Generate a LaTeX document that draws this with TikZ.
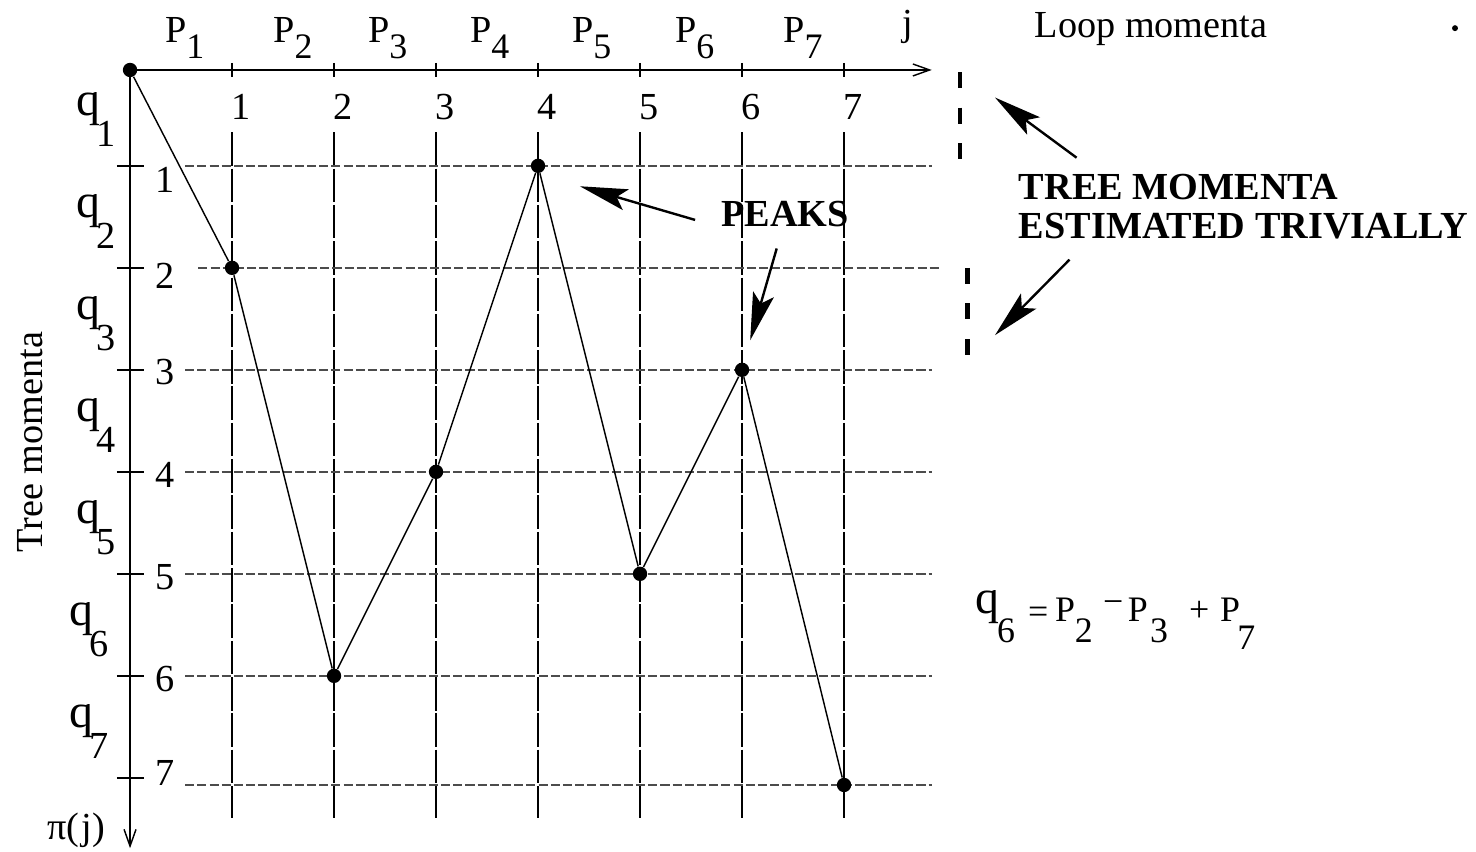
\documentclass[tikz,border=0pt]{standalone}
\usepackage{fontspec}
\setmainfont{Liberation Serif}
\usetikzlibrary{arrows.meta}

\begin{document}
\begin{tikzpicture}[
    x=1.5cm, y=-1.5cm,
    dot/.style={circle, fill=black, inner sep=0pt, minimum size=6pt},
    axis/.style={line width=0.6pt, -{Straight Barb[length=7pt, width=5pt]}},
    tickmark/.style={line width=0.6pt},
    vgrid/.style={line width=0.5pt, dash pattern=on 14pt off 1.2pt},
    hgrid/.style={line width=0.6pt, black!70, dash pattern=on 3.8pt off 1.3pt},
    path line/.style={line width=0.6pt},
    pointer/.style={line width=1pt, -{Stealth[length=20pt, width=9pt, inset=4pt]}},
    bar/.style={line width=1.8pt, dash pattern=on 6.7pt off 8.2pt},
    numlab/.style={inner sep=0pt, font=\fontsize{16}{19}\selectfont},
    plab/.style={inner sep=0pt, font=\fontsize{16}{19}\selectfont},
    qlab/.style={inner sep=0pt, font=\fontsize{20}{24}\selectfont},
    bold note/.style={inner sep=0pt, font=\fontsize{16}{16.7}\selectfont\bfseries, align=left}
]
\useasboundingbox (-1.275,-0.686) rectangle (13.196,7.667);

% Grid
\foreach \k in {1,...,7}
    \draw[vgrid] (\k,0.61) -- (\k,7.33);
\foreach \y in {0.94,2.94,3.94,4.94,5.94,7.01}
    \draw[hgrid] (0.54,\y) -- (7.86,\y);
\draw[hgrid] (0.67,1.94) -- (7.94,1.94);

% Axes
\node[dot] (v0) at (0,0) {};
\coordinate (xend) at (7.86,0);
\coordinate (yend) at (0,7.63);
\draw[axis] (v0.center) -- (xend);
\draw[axis] (v0.center) -- (yend);
\foreach \k in {1,...,7}
    \draw[tickmark] (\k,-0.07) -- (\k,0.07);
\foreach \y in {0.94,1.94,2.94,3.94,4.94,5.94,6.94}
    \draw[tickmark] (-0.13,\y) -- (0.14,\y);

% Axis labels
\foreach \k in {1,...,7}
    \node[numlab] (c\k) at (\k+0.09,0.363) {\k};
\foreach \k/\ly in {1/1.08,2/2.02,3/2.96,4/3.97,5/4.97,6/5.97,7/6.89}
    \node[numlab] (r\k) at (0.34,\ly) {\k};
\foreach \k/\px in {1/0.34,2/1.40,3/2.33,4/3.33,5/4.33,6/5.34,7/6.40}
    \node[plab, anchor=base west] (P\k) at (\px,-0.265) {P\raisebox{-6.5pt}{\fontsize{15}{15}\selectfont\k}};
\foreach \k/\qx in {1/-0.53,2/-0.53,3/-0.53,4/-0.53,5/-0.53,6/-0.60,7/-0.60}
    \node[qlab, anchor=base west] (q\k) at (\qx,\k-0.55) {q\kern-1.5pt\raisebox{-13pt}{\fontsize{16}{16}\selectfont\k}};
\node[plab, anchor=base] (jlab) at (7.63,-0.34) {j};
\node[plab, rotate=90] (tree) at (-0.98,3.65) {Tree momenta};
\node[plab] (pij) at (-0.53,7.45) {π(\kern1pt j)};
\node[plab, anchor=base] (loop) at (10.01,-0.32) {Loop momenta};
\node[circle, fill, inner sep=0pt, minimum size=2.5pt] (spot) at (12.99,-0.41) {};

% Permutation path
\foreach \j/\r in {1/1.94,2/5.94,3/3.94,4/0.94,5/4.94,6/2.94,7/7.01}
    \node[dot] (v\j) at (\j,\r) {};
\draw[path line] (v0) -- (v1) -- (v2) -- (v3) -- (v4) -- (v5) -- (v6) -- (v7);

% Peaks
\node[bold note] (peaks) at (6.42,1.41) {PEAKS};
\coordinate (pk1tail) at (5.54,1.47);
\coordinate (pk1tip) at (4.41,1.14);
\coordinate (pk2tail) at (6.34,1.75);
\coordinate (pk2tip) at (6.08,2.65);
\draw[pointer] (pk1tail) -- (pk1tip);
\draw[pointer] (pk2tail) -- (pk2tip);

% Trivial tree momenta
\node[bold note, anchor=west] (trivial) at (8.71,1.34) {TREE MOMENTA\\ESTIMATED TRIVIALLY};
\coordinate (bar1a) at (8.14,0.02);
\coordinate (bar1b) at (8.14,0.88);
\coordinate (bar2a) at (8.21,1.94);
\coordinate (bar2b) at (8.21,2.82);
\draw[bar] (bar1a) -- (bar1b);
\draw[bar] (bar2a) -- (bar2b);
\coordinate (tr1tail) at (9.28,0.86);
\coordinate (tr1tip) at (8.48,0.27);
\coordinate (tr2tail) at (9.21,1.86);
\coordinate (tr2tip) at (8.48,2.60);
\draw[pointer] (tr1tail) -- (tr1tip);
\draw[pointer] (tr2tail) -- (tr2tip);

% Example
\node[anchor=base west, inner sep=0pt, font=\fontsize{15}{15}\selectfont] (eqn) at (8.28,5.33) {{\fontsize{20}{20}\selectfont q}\kern-0.8pt\raisebox{-12pt}{6}\hspace{5.5pt}\raisebox{-4.1pt}{=}\hspace{2.8pt}\raisebox{-3.3pt}{P}\raisebox{-12pt}{2}\hspace{4.3pt}\raisebox{0pt}{−}\hspace{1.9pt}\raisebox{-3.3pt}{P}\kern0.9pt\raisebox{-12pt}{3}\hspace{8.9pt}\raisebox{-3.4pt}{+}\hspace{4.5pt}\raisebox{-3.3pt}{P}\kern-1.2pt\raisebox{-15pt}{7}};
\end{tikzpicture}
\end{document}
